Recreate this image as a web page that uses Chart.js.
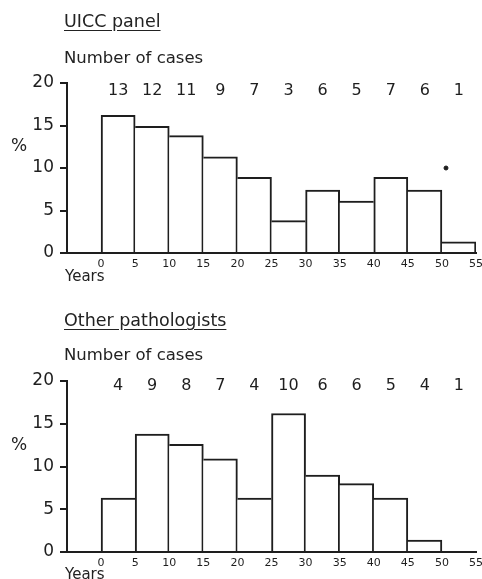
<!DOCTYPE html>
<html>
<head>
<meta charset="utf-8">
<script src="https://cdn.jsdelivr.net/npm/chart.js@4/dist/chart.umd.min.js"></script>
<style>
  html, body { margin: 0; padding: 0; background: #fff; }
  #page { position: relative; width: 482px; height: 579px; overflow: hidden;
          font-family: 'DejaVu Sans', sans-serif; color: #222; }
  canvas { position: absolute; left: 0; }
  .lbl { position: absolute; white-space: nowrap; line-height: 1; z-index: 2; }
  .ttl { font-size: 17.5px; text-decoration: underline; text-underline-offset: 3px; }
  .sub { font-size: 16.5px; }
  .pct { font-size: 17px; }
  .yrs { font-size: 15px; }
</style>
</head>
<body>
<div id="page">
  <canvas id="uicc" width="482" height="290" style="top:0"></canvas>
  <canvas id="other" width="482" height="289" style="top:290px"></canvas>

  <div class="lbl ttl" style="left:64px; top:13px">UICC panel</div>
  <div class="lbl sub" style="left:64px; top:50px">Number of cases</div>
  <div class="lbl pct" style="left:11px; top:137px">%</div>
  <div class="lbl yrs" style="left:65px; top:269px">Years</div>

  <div class="lbl ttl" style="left:64px; top:312px">Other pathologists</div>
  <div class="lbl sub" style="left:64px; top:347px">Number of cases</div>
  <div class="lbl pct" style="left:11px; top:436px">%</div>
  <div class="lbl yrs" style="left:65px; top:567px">Years</div>
</div>

<script>
// age bins (years), each 5 wide
const binStart = [0, 5, 10, 15, 20, 25, 30, 35, 40, 45, 50];

// UICC panel
const uiccPercent = [16.2, 14.9, 13.8, 11.3, 8.9, 3.8, 7.4, 6.1, 8.9, 7.4, 1.3];
const uiccCases = [13, 12, 11, 9, 7, 3, 6, 5, 7, 6, 1];
const uiccMarker = [{ x: 50.6, y: 10 }];

// Other pathologists
const otherPercent = [6.3, 13.8, 12.6, 10.9, 6.3, 16.2, 9.0, 8.0, 6.3, 1.4, 0];
const otherCases = [4, 9, 8, 7, 4, 10, 6, 6, 5, 4, 1];

const yTicks = [0, 5, 10, 15, 20];
const xTicks = [0, 5, 10, 15, 20, 25, 30, 35, 40, 45, 50, 55];

const INK = '#1e1e1e';

// writes the number of cases above each bin
const casesPlugin = {
  id: 'cases',
  afterDatasetsDraw(chart, args, opts) {
    const { ctx, chartArea, scales } = chart;
    ctx.save();
    ctx.fillStyle = INK;
    ctx.font = '16px "DejaVu Sans", sans-serif';
    ctx.textAlign = 'center';
    ctx.textBaseline = 'middle';
    opts.counts.forEach((n, i) => {
      const x = scales.x.getPixelForValue(binStart[i] + 2.5);
      ctx.fillText(String(n), x, chartArea.top + opts.offset);
    });
    ctx.restore();
  }
};

function makePanel(id, percents, counts, marker, geo) {
  // shared edges are drawn once, by the taller of the two bars
  const edges = c => {
    const i = c.dataIndex;
    const v = percents[i];
    const prev = i > 0 ? percents[i - 1] : -1;
    const next = i < percents.length - 1 ? percents[i + 1] : -1;
    return { top: 2, bottom: 0, left: v > prev ? 2 : 0, right: v >= next ? 2 : 0 };
  };

  const datasets = [{
    type: 'bar',
    data: binStart.map((s, i) => ({ x: s + 2.5, y: percents[i] })),
    backgroundColor: '#fff',
    borderColor: INK,
    borderWidth: edges,
    borderSkipped: false,
    barPercentage: 1,
    categoryPercentage: 1,
    order: 2,
  }];
  if (marker) {
    datasets.push({
      type: 'scatter',
      data: marker,
      pointRadius: 2,
      pointBackgroundColor: INK,
      pointBorderColor: INK,
      order: 1,
    });
  }

  return new Chart(document.getElementById(id), {
    data: { datasets },
    plugins: [casesPlugin],
    options: {
      responsive: false,
      animation: false,
      layout: { padding: { top: geo.top, right: 6, left: 0, bottom: 0 } },
      plugins: {
        legend: { display: false },
        tooltip: { enabled: false },
        cases: { counts, offset: geo.labelOffset },
      },
      scales: {
        x: {
          type: 'linear',
          min: -5,
          max: 55,
          offset: false,
          afterBuildTicks: s => { s.ticks = [-5, ...xTicks].map(v => ({ value: v })); },
          afterFit: s => { s.height = geo.xHeight; },
          grid: { display: false },
          border: { display: true, color: INK, width: 2 },
          ticks: {
            padding: -3,
            color: INK,
            font: { size: 11, family: 'DejaVu Sans' },
            maxRotation: 0,
            autoSkip: false,
            callback: v => (v < 0 ? '' : v),
          },
        },
        y: {
          min: 0,
          max: 20,
          afterBuildTicks: s => { s.ticks = yTicks.map(v => ({ value: v })); },
          afterFit: s => { s.width = 67; },
          grid: { drawOnChartArea: false, drawTicks: true, tickLength: 7, color: INK, lineWidth: 2 },
          border: { display: true, color: INK, width: 2 },
          ticks: {
            padding: 6,
            color: INK,
            font: { size: 17, family: 'DejaVu Sans' },
          },
        },
      },
    },
  });
}

makePanel('uicc', uiccPercent, uiccCases, uiccMarker, { top: 83, xHeight: 37, labelOffset: 8 });
makePanel('other', otherPercent, otherCases, null, { top: 91, xHeight: 27, labelOffset: 5 });
</script>
</body>
</html>
